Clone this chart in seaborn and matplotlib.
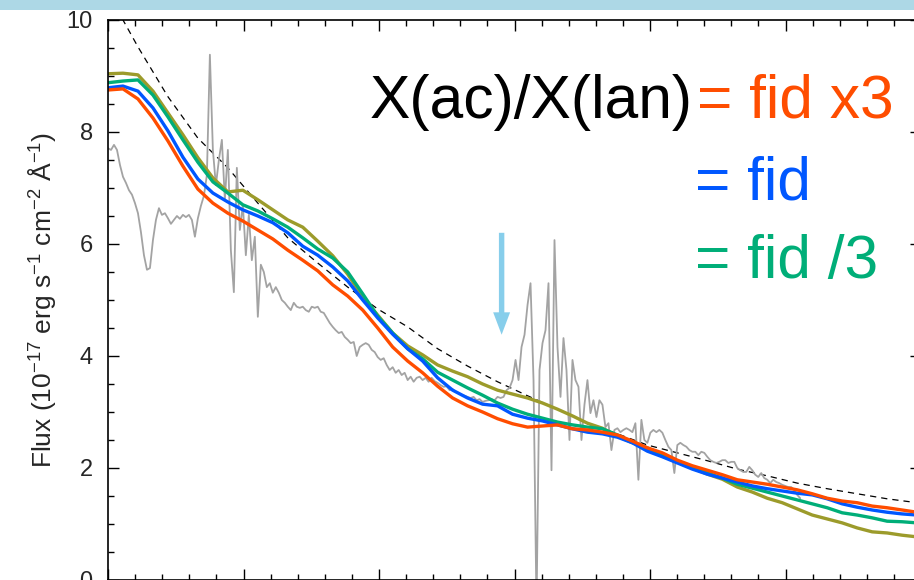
import numpy as np
import pandas as pd
import matplotlib
matplotlib.use("Agg")
import matplotlib.pyplot as plt
from matplotlib.patches import Rectangle
from matplotlib.ticker import MultipleLocator
import seaborn as sns

# Wavelength grids (Angstrom)
OBS_START, OBS_STEP = 8000.0, 44.23
MODEL_START, MODEL_STEP = 8000.0, 221.16
BB_START, BB_STEP = 8000.0, 442.32

# Observed spectrum (10^-17 erg s^-1 cm^-2 A^-1)
observed_flux = [
    7.71, 7.68, 7.77, 7.68, 7.41, 7.20, 7.09, 6.96, 6.88, 6.73,
    6.55, 6.21, 5.80, 5.54, 5.57, 6.07, 6.43, 6.64, 6.52, 6.55,
    6.46, 6.36, 6.43, 6.50, 6.45, 6.52, 6.48, 6.52, 6.43, 6.13,
    6.46, 6.68, 6.86, 7.23, 9.38, 7.68, 7.05, 7.50, 7.86, 6.79,
    7.68, 5.89, 5.14, 7.36, 6.25, 6.70, 5.80, 6.52, 5.71, 6.13,
    4.70, 5.63, 5.50, 5.23, 5.30, 5.13, 5.23, 5.13, 5.00, 4.95,
    4.88, 4.82, 4.95, 4.88, 4.86, 4.88, 4.82, 4.79, 4.88, 4.86,
    4.88, 4.79, 4.77, 4.68, 4.59, 4.52, 4.46, 4.41, 4.43, 4.34,
    4.29, 4.23, 4.25, 4.00, 4.16, 4.20, 4.23, 4.20, 4.11, 4.07,
    3.98, 3.93, 3.96, 3.84, 3.75, 3.80, 3.70, 3.75, 3.66, 3.70,
    3.57, 3.63, 3.54, 3.61, 3.63, 3.57, 3.61, 3.54, 3.61, 3.55,
    3.52, 3.48, 3.45, 3.46, 3.39, 3.41, 3.36, 3.34, 3.30, 3.29,
    3.27, 3.25, 3.27, 3.21, 3.23, 3.18, 3.20, 3.21, 3.23, 3.21,
    3.27, 3.25, 3.27, 3.39, 3.43, 3.57, 3.93, 3.57, 4.16, 4.38,
    4.91, 5.30, 3.57, -0.50, 3.75, 4.23, 4.46, 5.30, 1.96, 6.07,
    4.16, 3.27, 4.32, 3.75, 2.50, 3.93, 3.57, 3.45, 2.50, 3.13,
    3.57, 2.98, 3.21, 2.91, 3.21, 3.13, 2.73, 2.80, 2.32, 2.68,
    2.71, 2.64, 2.68, 2.71, 2.68, 2.64, 2.80, 1.79, 2.86, 2.50,
    2.45, 2.63, 2.68, 2.64, 2.68, 2.63, 2.50, 2.38, 2.32, 1.91,
    2.41, 2.45, 2.41, 2.38, 2.32, 2.29, 2.29, 2.23, 2.29, 2.27,
    2.20, 2.14, 2.11, 2.09, 2.11, 2.14, 2.14, 2.09, 2.11, 2.11,
    2.00, 1.96, 1.93, 1.93, 2.02, 1.96, 1.88, 1.84, 1.91, 1.82,
    1.79, 1.73, 1.79, 1.75, 1.73, 1.70, 1.68, 1.66, 1.66, 1.61,
    1.52, 1.46,
]

# Model spectra for different X(ac)/X(lan) ratios
model_other = [
    9.04, 9.05, 9.02, 8.73, 8.34, 7.95, 7.54, 7.18, 6.93, 6.96,
    6.79, 6.61, 6.43, 6.30, 6.05, 5.79, 5.46, 5.05, 4.73, 4.41,
    4.18, 4.02, 3.84, 3.73, 3.63, 3.50, 3.39, 3.32, 3.25, 3.16,
    3.05, 2.93, 2.80, 2.71, 2.57, 2.45, 2.36, 2.23, 2.11, 2.00,
    1.89, 1.80, 1.66, 1.57, 1.46, 1.38, 1.27, 1.16, 1.09, 1.02,
    0.93, 0.86, 0.84, 0.80, 0.77, 0.73,
]
model_fid_div3 = [
    8.88, 8.91, 8.93, 8.66, 8.27, 7.86, 7.46, 7.11, 6.91, 6.70,
    6.59, 6.45, 6.30, 6.11, 5.91, 5.75, 5.50, 5.11, 4.71, 4.41,
    4.13, 3.95, 3.71, 3.57, 3.43, 3.30, 3.16, 3.05, 2.96, 2.89,
    2.82, 2.77, 2.73, 2.70, 2.59, 2.46, 2.34, 2.23, 2.11, 2.00,
    1.91, 1.82, 1.71, 1.64, 1.57, 1.50, 1.43, 1.36, 1.29, 1.20,
    1.16, 1.11, 1.05, 1.04, 1.02, 1.00,
]
model_fid = [
    8.79, 8.82, 8.73, 8.43, 8.02, 7.55, 7.16, 6.91, 6.75, 6.61,
    6.50, 6.38, 6.20, 5.96, 5.80, 5.59, 5.34, 5.00, 4.68, 4.39,
    4.13, 3.91, 3.61, 3.39, 3.25, 3.14, 3.11, 2.96, 2.89, 2.84,
    2.77, 2.70, 2.64, 2.61, 2.55, 2.45, 2.30, 2.20, 2.09, 1.98,
    1.89, 1.82, 1.75, 1.68, 1.63, 1.59, 1.55, 1.52, 1.45, 1.36,
    1.30, 1.25, 1.21, 1.18, 1.16, 1.14,
]
model_fid_x3 = [
    8.75, 8.77, 8.59, 8.25, 7.84, 7.39, 6.98, 6.73, 6.55, 6.41,
    6.25, 6.09, 5.89, 5.71, 5.52, 5.27, 5.07, 4.82, 4.50, 4.16,
    3.91, 3.70, 3.46, 3.25, 3.11, 3.00, 2.88, 2.79, 2.73, 2.75,
    2.77, 2.70, 2.68, 2.64, 2.59, 2.48, 2.36, 2.27, 2.14, 2.04,
    1.96, 1.88, 1.79, 1.75, 1.71, 1.66, 1.61, 1.54, 1.46, 1.41,
    1.38, 1.32, 1.29, 1.25, 1.21, 1.20,
]

# Smooth continuum (dashed)
continuum_flux = [
    10.48, 9.52, 8.63, 7.89, 7.36, 6.73, 6.11, 5.66, 5.23, 4.84,
    4.52, 4.13, 3.82, 3.54, 3.29, 3.05, 2.79, 2.61, 2.41, 2.27,
    2.13, 1.98, 1.86, 1.73, 1.63, 1.54, 1.45, 1.38, 1.30,
]

model_labels = ["other", "fid /3", "fid", "fid x3"]
model_colors = ["#9C9B2B", "#00AE78", "#0057FF", "#FF4D00"]
label_texts = ["= fid x3", "= fid", "= fid /3"]
label_colors = ["#FF4D00", "#0057FF", "#00AE78"]

# Marker position (Angstrom) and extent in flux
arrow_wave = 13810.0
arrow_top, arrow_tip = 6.20, 4.38

obs_wave = OBS_START + OBS_STEP * np.arange(len(observed_flux))
model_wave = MODEL_START + MODEL_STEP * np.arange(len(model_fid))
bb_wave = BB_START + BB_STEP * np.arange(len(continuum_flux))

models = pd.concat([
    pd.DataFrame({"wave": model_wave, "flux": vals, "model": name})
    for name, vals in zip(model_labels,
                          [model_other, model_fid_div3, model_fid, model_fid_x3])
], ignore_index=True)

sns.set_theme(style="ticks")
plt.rcParams["font.family"] = ["Liberation Sans", "DejaVu Sans"]
plt.rcParams["mathtext.default"] = "regular"

fig = plt.figure(figsize=(9.14, 5.8), dpi=100)
ax = fig.add_axes([108 / 914, 0.0, 813 / 914, 560 / 580])

sns.lineplot(x=bb_wave, y=continuum_flux, color="black", lw=0.9, ax=ax)
ax.lines[-1].set_dashes([5, 4])
sns.lineplot(x=obs_wave, y=observed_flux, color="#A3A3A3", lw=1.3,
             estimator=None, sort=False, ax=ax)
sns.lineplot(data=models, x="wave", y="flux", hue="model",
             hue_order=model_labels, palette=model_colors, lw=2.4,
             estimator=None, legend=False, ax=ax)

ax.arrow(arrow_wave, arrow_top, 0, arrow_tip - arrow_top, width=80,
         head_width=250, head_length=0.40, length_includes_head=True,
         color="#87CEEB", lw=0, zorder=5)

ax.set_xlim(8000, 20000)
ax.set_ylim(0, 10)
ax.xaxis.set_major_locator(MultipleLocator(2000))
ax.xaxis.set_minor_locator(MultipleLocator(400))
ax.yaxis.set_major_locator(MultipleLocator(2))
ax.yaxis.set_minor_locator(MultipleLocator(0.5))
ax.tick_params(which="both", direction="in", top=True, right=True,
               color="black", width=1.0)
ax.tick_params(which="major", length=8)
ax.tick_params(which="minor", length=4.5)
ax.tick_params(axis="y", labelsize=17, pad=11)
ax.tick_params(axis="x", labelbottom=False)
for sp in ax.spines.values():
    sp.set_linewidth(1.2)
    sp.set_color("black")

ax.set_xlabel("")
ax.set_ylabel("Flux (10$^{-17}$ erg s$^{-1}$ cm$^{-2}$ Å$^{-1}$)", fontsize=19)
ax.yaxis.set_label_coords(-0.061, 0.5)

fig.text(370 / 914, (580 - 118) / 580, "X(ac)/X(lan)", fontsize=43.6,
         color="black", ha="left", va="baseline")
baselines = [118, 200, 278]
lefts = [697, 695, 695]
for txt, col, yb, xl in zip(label_texts, label_colors, baselines, lefts):
    fig.text(xl / 914, (580 - yb) / 580, txt, fontsize=43.6, color=col,
             ha="left", va="baseline")

fig.add_artist(Rectangle((0, 1 - 10 / 580), 1, 10 / 580,
                         transform=fig.transFigure, facecolor="#ADD8E6",
                         edgecolor="none"))

fig.savefig("out.png", dpi=100)
